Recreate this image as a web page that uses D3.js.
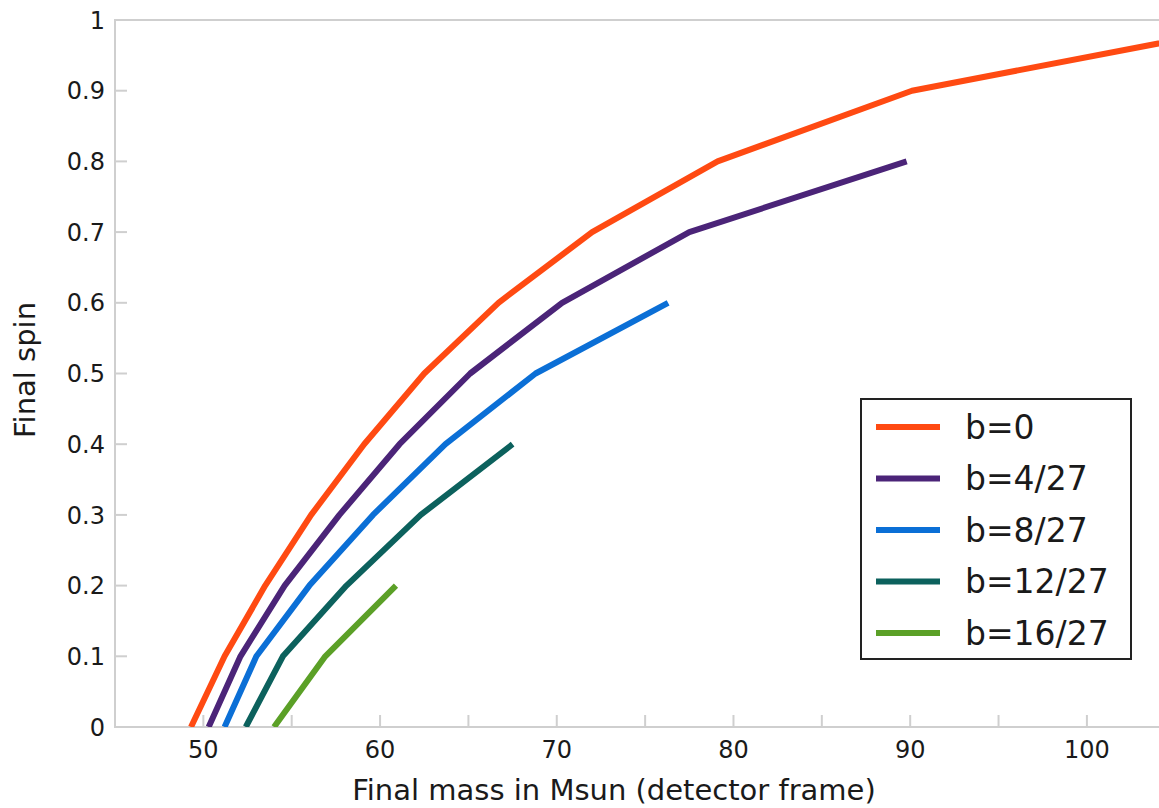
<!DOCTYPE html>
<html>
<head>
<meta charset="utf-8">
<script src="https://cdn.jsdelivr.net/npm/d3@7"></script>
<style>
	body { margin: 0; background: #fff; }
	text { font-family: 'DejaVu Sans', sans-serif; fill: #1a1a1a; }
</style>
</head>
<body>
<script>
// series: [final mass, final spin]
const labels  = ['b=0', 'b=4/27', 'b=8/27', 'b=12/27', 'b=16/27']
const colors  = ['#ff4a12', '#4b2478', '#0b6fd6', '#0c615d', '#5ba027']
const b0  = [[49.3, 0], [51.2, 0.1], [53.5, 0.2], [56.1, 0.3], [59.1, 0.4], [62.5, 0.5], [66.7, 0.6], [72.0, 0.7], [79.1, 0.8], [90.1, 0.9], [111, 1.0]]
const b4  = [[50.3, 0], [52.1, 0.1], [54.6, 0.2], [57.7, 0.3], [61.1, 0.4], [65.1, 0.5], [70.3, 0.6], [77.5, 0.7], [89.8, 0.8]]
const b8  = [[51.2, 0], [53.0, 0.1], [56.0, 0.2], [59.6, 0.3], [63.7, 0.4], [68.8, 0.5], [76.3, 0.6]]
const b12 = [[52.4, 0], [54.5, 0.1], [58.1, 0.2], [62.3, 0.3], [67.5, 0.4]]
const b16 = [[54.0, 0], [56.9, 0.1], [60.9, 0.2]]
const series = [b0, b4, b8, b12, b16]

const xTicks = [50, 55, 60, 65, 70, 75, 80, 85, 90, 95, 100]
const yTicks = [0, 0.1, 0.2, 0.3, 0.4, 0.5, 0.6, 0.7, 0.8, 0.9, 1]

const W = 1159, H = 808
const mLeft = 115, mTop = 20, mBottom = 727, mRight = 1159

const svg = d3.select('body').append('svg')
	.attr('width', W)
	.attr('height', H)

const x = d3.scaleLinear().domain([45, 104.08]).range([mLeft, mRight])
const y = d3.scaleLinear().domain([0, 1]).range([mBottom, mTop])

svg.append('clipPath').attr('id', 'plot')
	.append('rect')
	.attr('x', mLeft).attr('y', mTop)
	.attr('width', mRight - mLeft).attr('height', mBottom - mTop)

// Frame
const frame = svg.append('g')
	.attr('stroke', '#cfcfcf')
	.attr('stroke-width', 2)
	.attr('fill', 'none')

frame.append('path')
	.attr('d', `M${mRight},${mTop}H${mLeft}V${mBottom}H${mRight}`)

// Ticks (inside)
frame.selectAll('line.xt')
	.data(xTicks)
	.join('line')
	.attr('class', 'xt')
	.attr('x1', d => x(d)).attr('x2', d => x(d))
	.attr('y1', mBottom).attr('y2', mBottom - 12)

frame.selectAll('line.yt')
	.data(yTicks.filter(d => d > 0 && d < 1))
	.join('line')
	.attr('class', 'yt')
	.attr('y1', d => y(d)).attr('y2', d => y(d))
	.attr('x1', mLeft).attr('x2', mLeft + 12)

// Tick labels
svg.append('g').selectAll('text')
	.data(xTicks.filter(d => d % 10 == 0))
	.join('text')
	.attr('x', d => x(d))
	.attr('y', mBottom + 31)
	.attr('text-anchor', 'middle')
	.style('font-size', '24px')
	.text(d => d)

svg.append('g').selectAll('text')
	.data(yTicks)
	.join('text')
	.attr('x', 105)
	.attr('y', d => y(d))
	.attr('dy', '0.36em')
	.attr('text-anchor', 'end')
	.style('font-size', '24px')
	.text(d => d3.format('~g')(d))

// Axis titles
svg.append('text')
	.attr('x', 614)
	.attr('y', 800)
	.attr('text-anchor', 'middle')
	.style('font-size', '29px')
	.text('Final mass in Msun (detector frame)')

svg.append('text')
	.attr('transform', 'translate(35,370) rotate(-90)')
	.attr('text-anchor', 'middle')
	.style('font-size', '29px')
	.text('Final spin')

// Lines
const line = d3.line()
	.x(d => x(d[0]))
	.y(d => y(d[1]))

svg.append('g')
	.attr('clip-path', 'url(#plot)')
	.selectAll('path')
	.data(series)
	.join('path')
	.attr('d', line)
	.attr('fill', 'none')
	.attr('stroke', (d, i) => colors[i])
	.attr('stroke-width', 6)
	.attr('stroke-linejoin', 'round')

// Legend
const lg = svg.append('g').attr('transform', 'translate(861,399)')

lg.append('rect')
	.attr('width', 270)
	.attr('height', 260)
	.attr('fill', '#fff')
	.attr('stroke', '#222')
	.attr('stroke-width', 2)

const rows = lg.selectAll('g')
	.data(labels)
	.join('g')
	.attr('transform', (d, i) => `translate(0,${28 + i * 51.5})`)

rows.append('line')
	.attr('x1', 15).attr('x2', 79)
	.attr('stroke', (d, i) => colors[i])
	.attr('stroke-width', 6)

rows.append('text')
	.attr('x', 104)
	.attr('dy', '0.36em')
	.style('font-size', '33px')
	.text(d => d)
</script>
</body>
</html>
